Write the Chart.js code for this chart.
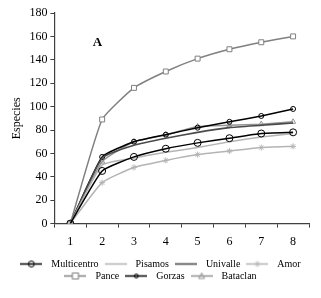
<!DOCTYPE html>
<html>
<head>
<meta charset="utf-8">
<script src="https://cdn.jsdelivr.net/npm/chart.js@4"></script>
<style>
  html, body { margin: 0; padding: 0; background: #fff; }
  #wrap { width: 321px; height: 298px; }
</style>
</head>
<body>
<div id="wrap"><canvas id="myChart" width="321" height="298"></canvas></div>
<script>
// data
const samples = ["1", "2", "3", "4", "5", "6", "7", "8"];
const multicentro = [0, 45, 57, 64, 69, 73, 77, 78];
const pisamos = [0, 50, 56, 61, 65, 70, 74, 77];
const univalle = [0, 56, 67, 73, 78, 82, 84, 86];
const amor = [0, 35, 48, 54, 59, 62, 65, 66];
const pance = [0, 89, 116, 130, 141, 149, 155, 160];
const gorzas = [0, 57, 70, 76, 82, 87, 92, 98];
const bataclan = [0, 53, 70, 76, 83, 84, 85, 87];

const serif = "'Liberation Serif', 'DejaVu Serif', serif";

function series(label, data, color, width, marker, radius, fill) {
  return {
    label,
    data,
    borderColor: color,
    backgroundColor: fill || "rgba(0,0,0,0)",
    borderWidth: width,
    pointStyle: marker || "circle",
    pointRadius: radius,
    pointBorderColor: color,
    pointBackgroundColor: fill || "rgba(0,0,0,0)",
    pointBorderWidth: 1,
    tension: 0.15,
  };
}

const datasets = [
  series("Multicentro", multicentro, "#000000", 1.5, "circle", 3.5),
  series("Pisamos", pisamos, "#b4b4b4", 1.5, "circle", 0),
  series("Univalle", univalle, "#4a4a4a", 1.6, "circle", 0),
  series("Amor", amor, "#b4b4b4", 1.5, "star", 3),
  series("Pance", pance, "#808080", 1.5, "rect", 3.5, "#ffffff"),
  series("Gorzas", gorzas, "#000000", 1.5, "circle", 2.5),
  series("Bataclan", bataclan, "#939393", 1.5, "triangle", 3),
];

// little line + marker samples for the legend
function legendSample(ds) {
  const c = document.createElement("canvas");
  c.width = 22;
  c.height = 9;
  const g = c.getContext("2d");
  g.strokeStyle = ds.borderColor;
  g.lineWidth = ds.borderWidth;
  g.beginPath();
  g.moveTo(0, 4.5);
  g.lineTo(22, 4.5);
  g.stroke();
  if (ds.pointRadius > 0) {
    g.fillStyle = ds.pointBackgroundColor;
    g.strokeStyle = ds.borderColor;
    g.lineWidth = 1;
    g.beginPath();
    if (ds.pointStyle === "rect") {
      g.fillRect(8, 1.5, 6, 6);
      g.strokeRect(8, 1.5, 6, 6);
    } else if (ds.pointStyle === "circle") {
      g.arc(11, 4.5, ds.pointRadius - 0.5, 0, Math.PI * 2);
      g.stroke();
    } else if (ds.pointStyle === "triangle") {
      g.moveTo(11, 1.5);
      g.lineTo(14, 7);
      g.lineTo(8, 7);
      g.closePath();
      g.stroke();
    } else {
      g.moveTo(8, 4.5); g.lineTo(14, 4.5);
      g.moveTo(11, 1.5); g.lineTo(11, 7.5);
      g.moveTo(9, 2.5); g.lineTo(13, 6.5);
      g.moveTo(13, 2.5); g.lineTo(9, 6.5);
      g.stroke();
    }
  }
  return c;
}
const samplesImg = datasets.map(legendSample);

const letterPlugin = {
  id: "panelLetter",
  afterDatasetsDraw(chart) {
    const { ctx, scales } = chart;
    ctx.save();
    ctx.font = "bold 13px " + serif;
    ctx.fillStyle = "#000";
    ctx.textAlign = "center";
    ctx.textBaseline = "middle";
    ctx.fillText("A", scales.x.getPixelForValue(0.85), scales.y.getPixelForValue(155));
    ctx.restore();
  },
};

const config = {
  type: "line",
  data: { labels: samples, datasets },
  options: {
    responsive: false,
    animation: false,
    layout: { padding: { left: 8, right: 12, top: 13, bottom: 7 } },
    plugins: {
      tooltip: { enabled: false },
      legend: {
        position: "bottom",
        labels: {
          usePointStyle: true,
          pointStyleWidth: 30,
          padding: 2,
          color: "#000",
          font: { family: serif, size: 10 },
          generateLabels(chart) {
            const items = Chart.defaults.plugins.legend.labels.generateLabels(chart);
            items.forEach((it, i) => { it.pointStyle = samplesImg[i]; });
            return items;
          },
        },
      },
    },
    scales: {
      x: {
        offset: true,
        afterFit(scale) { scale.height += 1; },
        grid: { offset: true, drawOnChartArea: false, drawTicks: true, tickLength: 4, color: "#404040" },
        border: { color: "#404040", width: 1.2 },
        ticks: { color: "#000", padding: 7, font: { family: serif, size: 12 } },
      },
      y: {
        min: 0,
        max: 180,
        ticks: { stepSize: 20, color: "#000", padding: 3, font: { family: serif, size: 12 } },
        grid: { drawOnChartArea: false, drawTicks: true, tickLength: 4, color: "#404040" },
        border: { color: "#404040", width: 1.2 },
        title: { display: true, text: "Especies", color: "#000", padding: 2, font: { family: serif, size: 12 } },
      },
    },
  },
  plugins: [letterPlugin],
};

const myChart = new Chart(document.getElementById("myChart"), config);
</script>
</body>
</html>
